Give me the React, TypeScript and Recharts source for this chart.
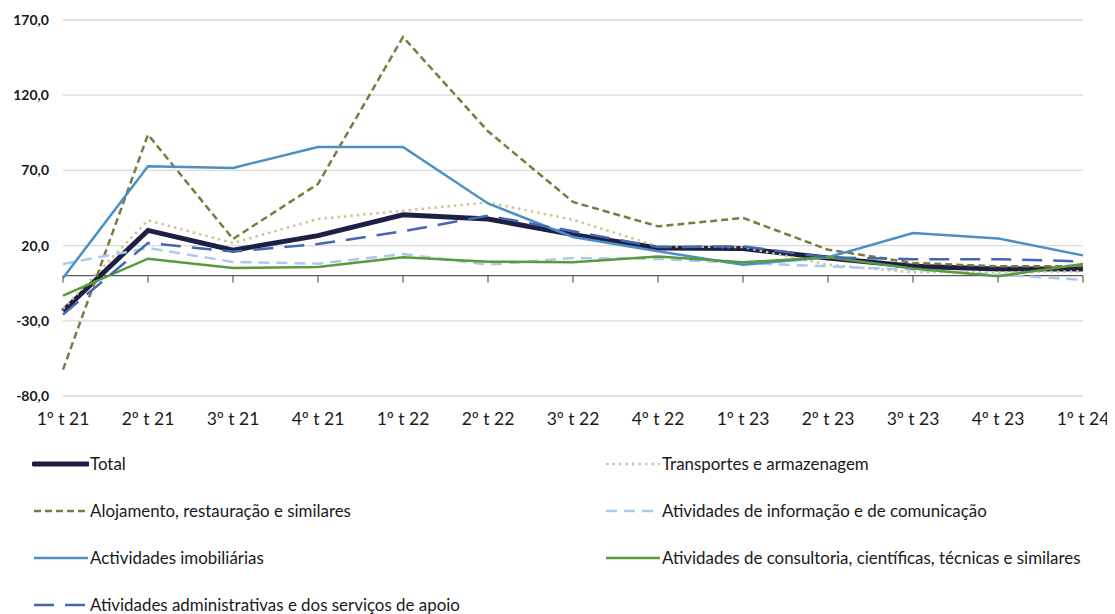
import React from 'react';
import { LineChart, Line, XAxis, YAxis, CartesianGrid, ReferenceLine, Legend } from 'recharts';

// trimestres
const categories = [
  '1º t 21', '2º t 21', '3º t 21', '4º t 21',
  '1º t 22', '2º t 22', '3º t 22', '4º t 22',
  '1º t 23', '2º t 23', '3º t 23', '4º t 23', '1º t 24',
];

const total = [-23.5, 30.1, 17.0, 26.6, 40.5, 37.7, 27.3, 18.4, 18.0, 11.8, 6.2, 4.4, 4.4];
const transportes = [-22.0, 36.8, 21.7, 37.7, 43.2, 48.7, 37.2, 19.5, 19.0, 7.3, 2.2, 2.2, 2.9];
const alojamento = [-62.5, 93.8, 24.4, 61.0, 158.7, 96.0, 49.0, 32.8, 38.4, 17.3, 8.5, 6.2, 6.4];
const informacao = [7.8, 18.4, 9.1, 8.0, 14.4, 7.3, 11.8, 11.1, 8.4, 6.2, 4.0, 0.7, -2.7];
const imobiliarias = [-1.5, 72.7, 71.6, 85.6, 85.6, 48.0, 25.7, 16.2, 7.3, 12.2, 28.4, 24.8, 13.5];
const consultoria = [-13.3, 11.3, 5.1, 5.8, 12.2, 9.3, 8.9, 12.8, 8.9, 12.2, 4.8, -0.4, 7.8];
const administrativas = [-25.8, 21.7, 16.0, 21.0, 29.5, 39.9, 29.5, 19.0, 19.5, 12.2, 11.0, 11.0, 9.5];

const yTicks = [-80, -30, 20, 70, 120, 170];

const series = [
  { key: 'total', name: 'Total', values: total, color: '#1d1f44', width: 5, dash: undefined },
  { key: 'transportes', name: 'Transportes e armazenagem', values: transportes, color: '#cdc596', width: 2.5, dash: '2.5 4' },
  { key: 'alojamento', name: 'Alojamento, restauração e similares', values: alojamento, color: '#7d7a3e', width: 2.5, dash: '7 4' },
  { key: 'informacao', name: 'Atividades de informação e de comunicação', values: informacao, color: '#a9c9f1', width: 2.5, dash: '11 7' },
  { key: 'imobiliarias', name: 'Actividades imobiliárias', values: imobiliarias, color: '#4a8fc6', width: 2.5, dash: undefined },
  { key: 'consultoria', name: 'Atividades de consultoria, científicas, técnicas e similares', values: consultoria, color: '#5a9a3a', width: 2.5, dash: undefined },
  { key: 'administrativas', name: 'Atividades administrativas e dos serviços de apoio', values: administrativas, color: '#4566b0', width: 2.5, dash: '20 11' },
];

const data = categories.map((c, i) => {
  const row: Record<string, string | number> = { name: c };
  series.forEach((s) => {
    row[s.key] = s.values[i];
  });
  return row;
});

const fmt = (v: number) => v.toFixed(1).replace('.', ',');

const renderLegend = () => (
  <div style={{ display: 'grid', gridTemplateColumns: '572px 500px', paddingLeft: 24, paddingTop: 6 }}>
    {series.map((s) => (
      <div key={s.key} style={{ display: 'flex', alignItems: 'center', height: 47 }}>
        <svg width={57} height={10} style={{ marginRight: 1 }}>
          <line
            x1={2}
            y1={5}
            x2={56}
            y2={5}
            stroke={s.color}
            strokeWidth={s.width}
            strokeDasharray={s.dash}
            strokeLinecap={s.key === 'total' ? 'round' : 'butt'}
          />
        </svg>
        <span style={{ fontSize: 16.9, color: '#1a1a1a', whiteSpace: 'nowrap' }}>{s.name}</span>
      </div>
    ))}
  </div>
);

export default function App() {
  return (
    <div style={{ width: 1107, height: 620, fontFamily: 'Lato, "Liberation Sans", sans-serif' }}>
      <LineChart width={1107} height={620} data={data} margin={{ top: 12, right: 32, bottom: 0, left: 0 }}>
        <CartesianGrid vertical={false} stroke="#d9d9d9" strokeWidth={1.3} />
        <XAxis
          dataKey="name"
          axisLine={false}
          tickLine={false}
          tickSize={0}
          tickMargin={17}
          height={38}
          interval={0}
          tick={{ fill: '#1a1a1a', fontSize: 17.5 }}
        />
        <YAxis
          type="number"
          domain={[-80, 170]}
          ticks={yTicks}
          width={55}
          axisLine={false}
          tickLine={false}
          tickSize={0}
          tickMargin={14}
          tickFormatter={fmt}
          tick={{ fill: '#1a1a1a', fontSize: 14, fontWeight: 700 }}
        />
        <ReferenceLine y={0} stroke="#595959" strokeWidth={1.2} />
        {categories.map((c) => (
          <ReferenceLine
            key={c}
            segment={[{ x: c, y: 0 }, { x: c, y: -4.6 }]}
            stroke="#595959"
            strokeWidth={1.2}
          />
        ))}
        {series.map((s) => (
          <Line
            key={s.key}
            type="linear"
            dataKey={s.key}
            name={s.name}
            stroke={s.color}
            strokeWidth={s.width}
            strokeDasharray={s.dash}
            dot={false}
            activeDot={false}
            isAnimationActive={false}
          />
        ))}
        <Legend
          verticalAlign="bottom"
          height={194}
          content={renderLegend}
          wrapperStyle={{ left: 0, width: 1107 }}
        />
      </LineChart>
    </div>
  );
}
